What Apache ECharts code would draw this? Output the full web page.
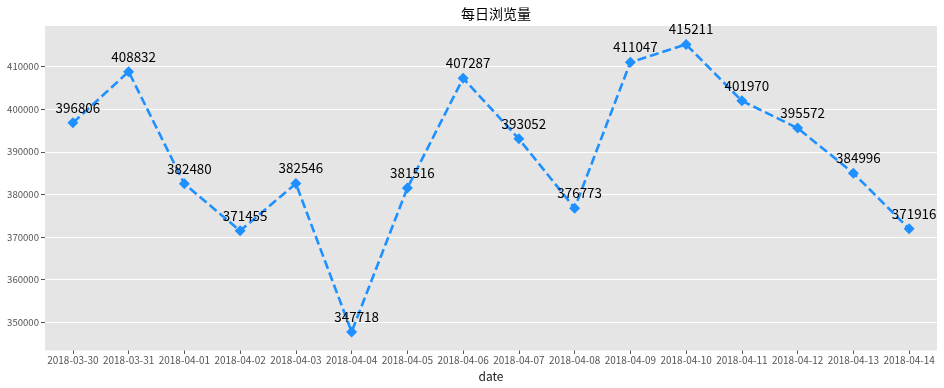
<!DOCTYPE html>
<html>
<head>
<meta charset="utf-8">
<script src="https://cdn.jsdelivr.net/npm/echarts@6/dist/echarts.min.js"></script>
<style>
html,body{margin:0;padding:0;background:#fff;}
#chart{width:944px;height:388px;}
</style>
</head>
<body>
<div id="chart"></div>
<script>
const categories = ['2018-03-30','2018-03-31','2018-04-01','2018-04-02','2018-04-03','2018-04-04','2018-04-05','2018-04-06','2018-04-07','2018-04-08','2018-04-09','2018-04-10','2018-04-11','2018-04-12','2018-04-13','2018-04-14'];
const views = [396806,408832,382480,371455,382546,347718,381516,407287,393052,376773,411047,415211,401970,395572,384996,371916];
const yTicks = [350000,360000,370000,380000,390000,400000,410000];
const titleText = '每日浏览量';
const xName = 'date';

const chart = echarts.init(document.getElementById('chart'), null, {renderer:'canvas'});
const numFont = 'Noto Sans CJK SC';
chart.setOption({
  animation:false,
  title:{text:titleText,left:491,top:2,textAlign:'center',
    textStyle:{fontFamily:'Noto Sans CJK SC',fontSize:14,fontWeight:'normal',color:'#000'}},
  grid:{left:45,right:7,top:26,bottom:37.5,show:true,backgroundColor:'#e5e5e5',borderWidth:0,
    containLabel:false,outerBoundsMode:'none'},
  xAxis:{type:'category',data:categories,boundaryGap:true,
    name:xName,nameLocation:'middle',nameGap:20,
    nameTextStyle:{fontFamily:numFont,fontSize:12,color:'#222'},
    axisLine:{show:false},
    axisTick:{show:true,alignWithLabel:true,interval:0,length:3.5,lineStyle:{color:'#555',width:1}},
    axisLabel:{fontFamily:numFont,fontSize:10,color:'#555',margin:5,interval:0},
    splitLine:{show:false}},
  yAxis:{type:'value',min:343350,max:419550,
    axisLine:{show:false},
    axisTick:{show:true,length:4,lineStyle:{color:'#555',width:1},customValues:yTicks},
    axisLabel:{fontFamily:numFont,fontSize:9.6,color:'#555',margin:6,customValues:yTicks,
      formatter:function(v){return String(v);}},
    splitLine:{show:true,lineStyle:{color:'#ffffff',width:1}}},
  series:[{type:'line',data:views,
    symbol:'diamond',symbolSize:11,
    itemStyle:{color:'#1e90ff'},
    lineStyle:{color:'#1e90ff',width:2.6,type:[9,4]},
    label:{show:true,position:'top',distance:3,offset:[5,0],
      fontFamily:numFont,fontSize:13.4,color:'#000'}}]
});
</script>
</body>
</html>
